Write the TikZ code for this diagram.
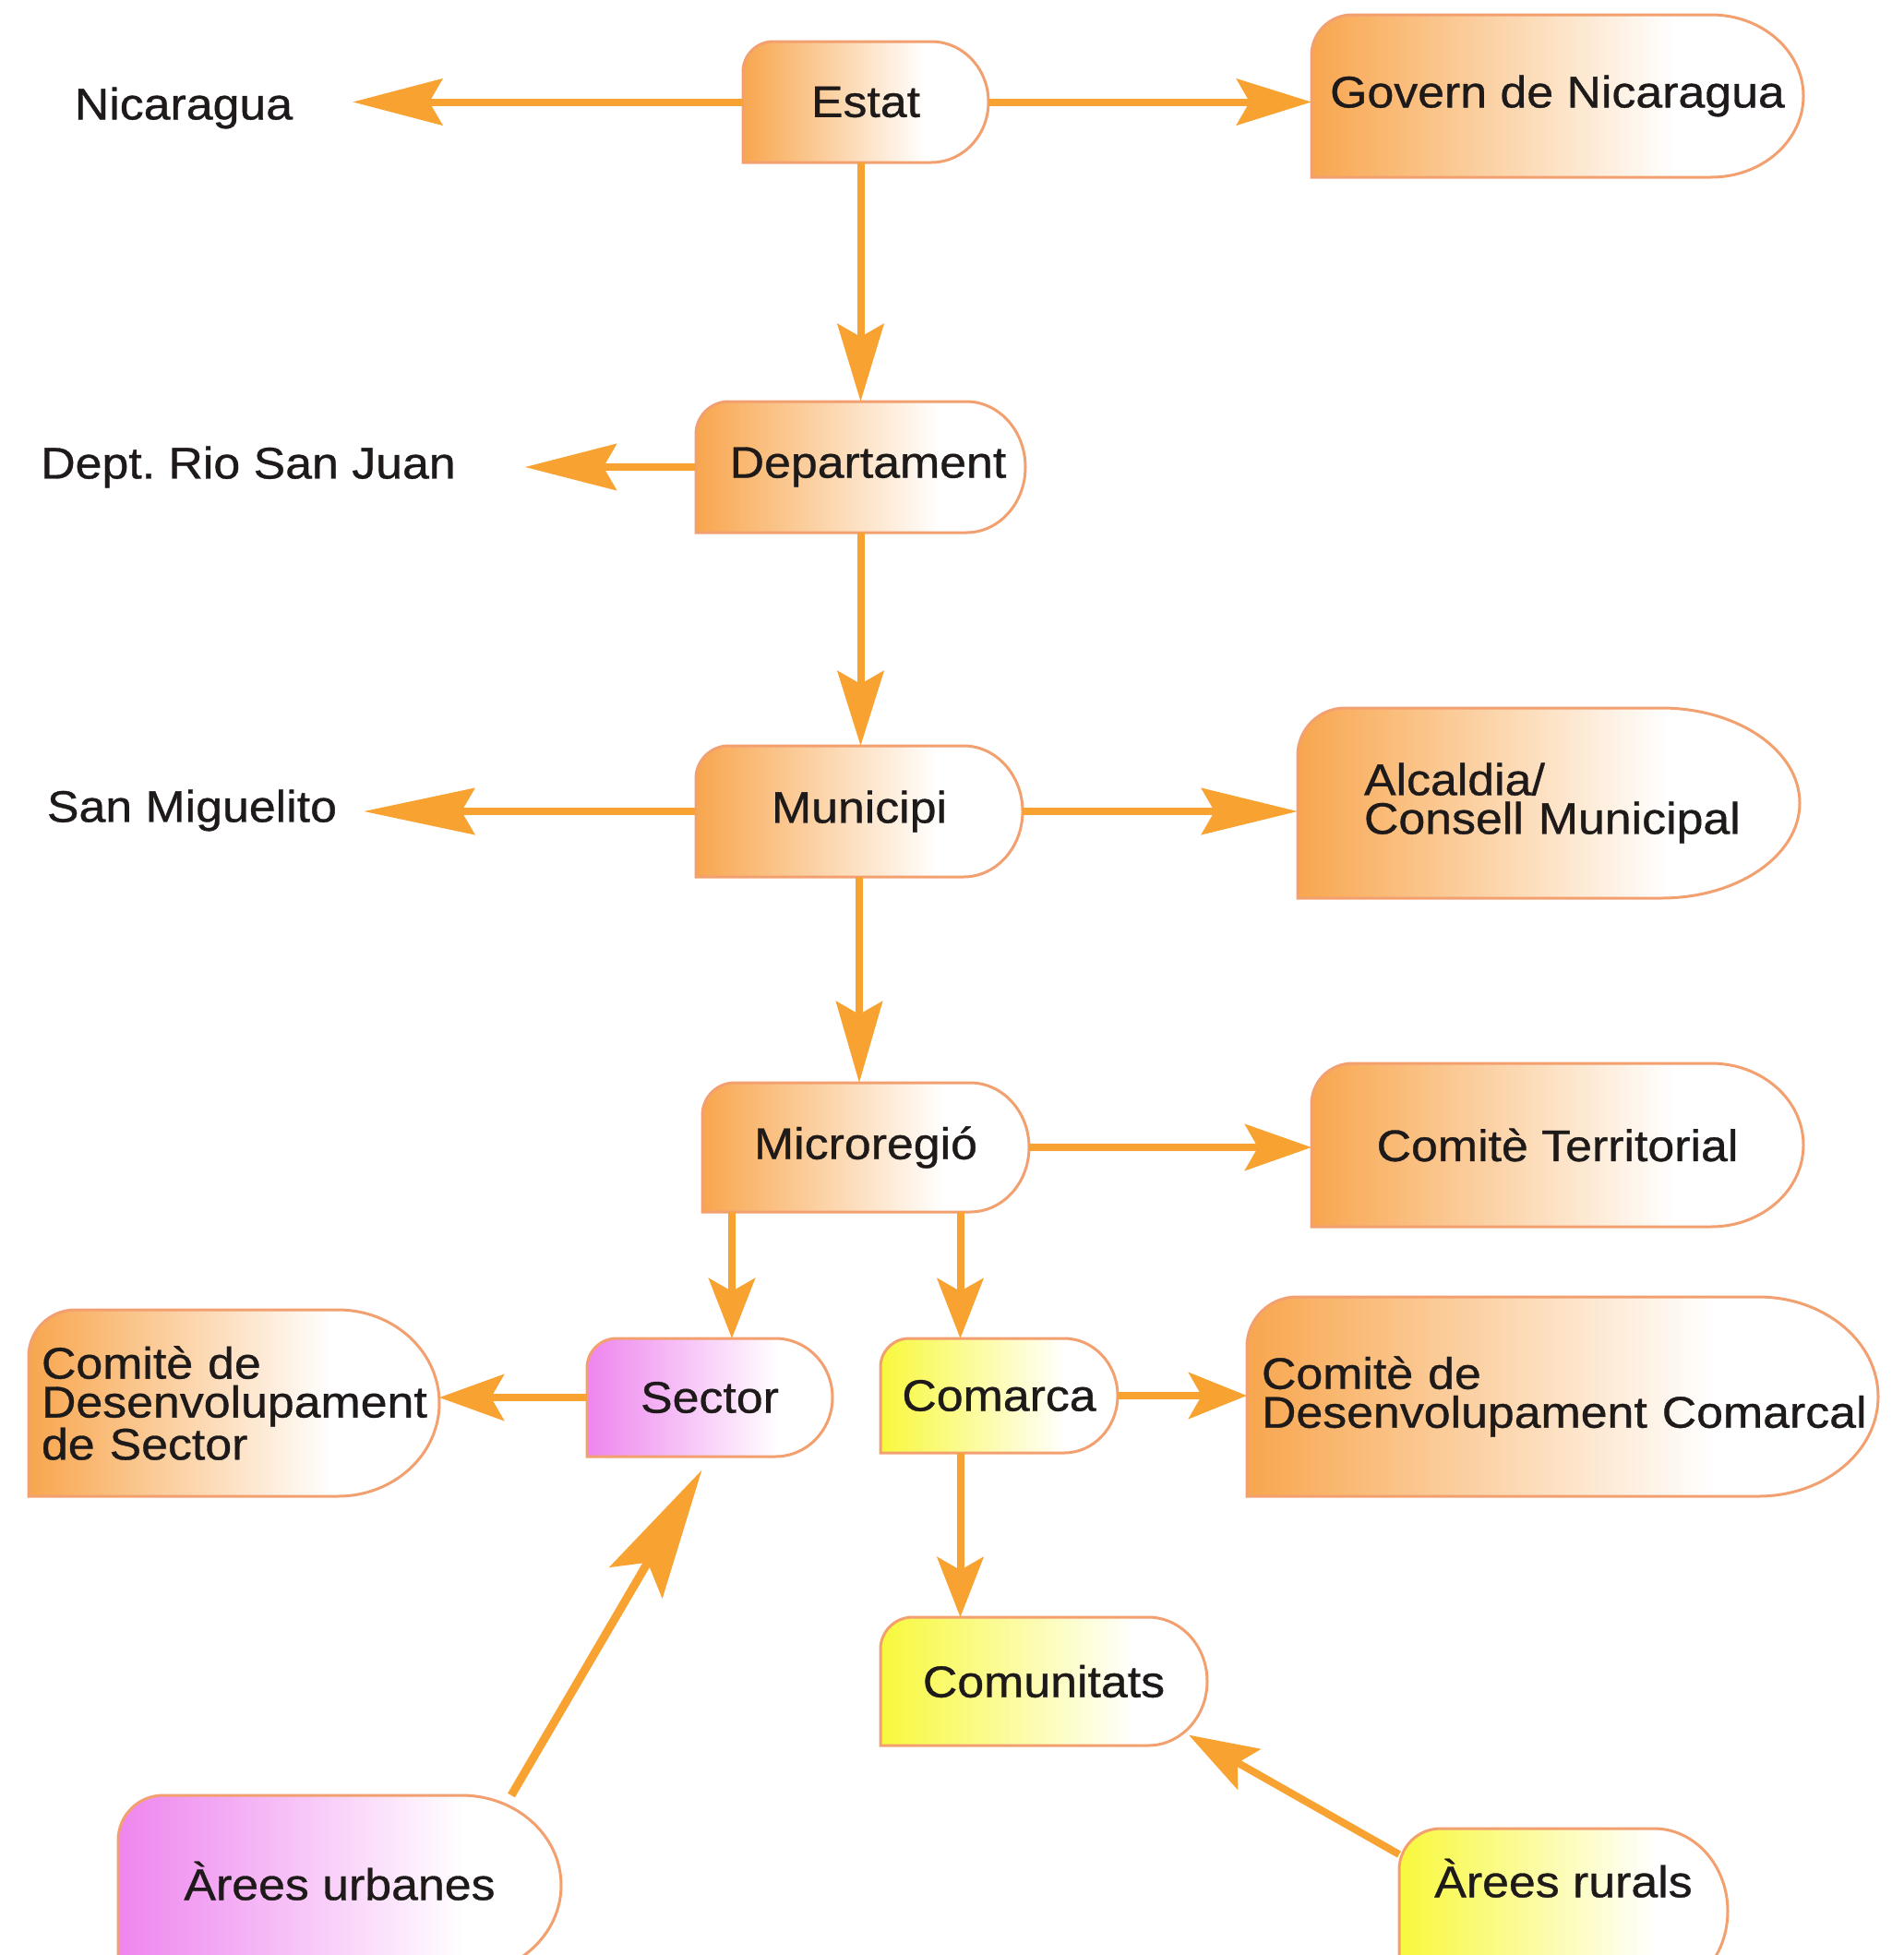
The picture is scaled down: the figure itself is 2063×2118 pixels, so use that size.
\documentclass[tikz,border=0pt]{standalone}
\usepackage{fontspec}
\setmainfont{Liberation Sans}[FakeStretch=1.08, FakeBold=0.7]
\usetikzlibrary{arrows.meta}
\definecolor{orC}{HTML}{F8A64E}
\definecolor{pkC}{HTML}{EE85EE}
\definecolor{ylC}{HTML}{F8F83C}
\definecolor{arrC}{HTML}{F8A232}
\definecolor{bordC}{HTML}{F2A070}
\definecolor{txtC}{HTML}{1E1A1A}
\pgfdeclarehorizontalshading{orsh}{100bp}{color(0bp)=(orC); color(25bp)=(orC); color(62bp)=(white); color(100bp)=(white)}
\pgfdeclarehorizontalshading{pksh}{100bp}{color(0bp)=(pkC); color(25bp)=(pkC); color(64bp)=(white); color(100bp)=(white)}
\pgfdeclarehorizontalshading{ylsh}{100bp}{color(0bp)=(ylC); color(25bp)=(ylC); color(64bp)=(white); color(100bp)=(white)}
\newcommand\bigf{\fontsize{48pt}{42pt}\selectfont\hyphenpenalty=10000 }
\tikzset{
  boxline/.style={draw=bordC, line width=3pt},
  txt/.style={inner sep=0pt, outer sep=0pt, font=\bigf, text=txtC, rectangle, align=center},
  arr/.style={draw=arrC, line width=8pt, -{Stealth[length=#1, width=50pt, inset=14pt]}},
  arr/.default=80pt,
}
% #1 name, #2 left, #3 top, #4 right, #5 bottom, #6 shading, #7 right radius, #8 node options, #9 text
\newcommand\bxn[9]{%
  \path[boxline, shading=#6] (#2,-#5) -- (#2,{-#3-(#5-#3)/4})
     arc[start angle=180, end angle=90, radius={(#5-#3)/4}]
     -- ({#4-#7},-#3)
     arc[start angle=90, end angle=-90, x radius=#7, y radius={(#5-#3)/2}]
     -- cycle;
  \node[txt, minimum width={(#4-#2)*1pt}, minimum height={(#5-#3)*1pt}, #8] (#1)
     at ({(#2+#4)/2},{-(#3+#5)/2}) {#9};
}
\begin{document}
\begin{tikzpicture}[x=1pt,y=1pt]
\useasboundingbox (0,0) rectangle (2063,-2118);
\clip (0,0) rectangle (2063,-2118);

% boxes
\bxn{estat}{805}{45}{1071}{176}{orsh}{62}{}{Estat}
\bxn{govern}{1421}{16}{1954}{192}{orsh}{100}{}{Govern de Nicaragua}
\bxn{depart}{754}{435}{1111}{577}{orsh}{64}{}{\hspace*{16pt}Departament}
\bxn{munic}{754}{808}{1108}{950}{orsh}{64}{}{Municipi}
\bxn{alcal}{1406}{767}{1950}{973}{orsh}{150}{align=left, text width=400pt}{\mbox{Alcaldia/}\\\mbox{Consell Municipal}}
\bxn{micro}{761}{1173}{1115}{1313}{orsh}{64}{}{Microregió}
\bxn{comter}{1421}{1152}{1954}{1329}{orsh}{100}{}{Comitè Territorial}
\bxn{sector}{636}{1450}{902}{1578}{pksh}{62}{}{Sector}
\bxn{cds}{31}{1419}{476}{1621}{orsh}{110}{align=left, text width=417pt}{\mbox{Comitè de}\\\mbox{Desenvolupament}\\\mbox{de Sector}}
\bxn{comarca}{954}{1450}{1211}{1574}{ylsh}{58}{}{Comarca}
\bxn{cdc}{1351}{1405}{2035}{1621}{orsh}{130}{align=left, text width=652pt}{\mbox{Comitè de}\\\mbox{Desenvolupament Comarcal}}
\bxn{comun}{954}{1752}{1308}{1891}{ylsh}{64}{}{Comunitats}
\bxn{urban}{128}{1945}{608}{2140}{pksh}{108}{}{\raisebox{10pt}{Àrees urbanes}}
\bxn{rural}{1516}{1981}{1872}{2160}{ylsh}{80}{}{\raisebox{72pt}{Àrees rurals}}

% plain labels
\node[txt] (nic) at (199,-117) {Nicaragua};
\node[txt] (rio) at (269,-506) {Dept.\ Rio San Juan};
\node[txt] (sanm) at (208,-878) {San Miguelito};

% connectors
\draw[arr=97pt, shorten >=65pt] (estat.west) -- (estat.west -| nic.east);
\draw[arr=81pt] (estat.east) -- (estat.east -| govern.west);
\draw[arr=84pt] (depart.north |- estat.south) -- (depart.north);
\draw[arr=99pt, shorten >=75pt] (depart.west) -- (depart.west -| rio.east);
\draw[arr=81pt] (depart.south) -- (depart.south |- munic.north);
\draw[arr=120pt, shorten >=29pt] (munic.west) -- (munic.west -| sanm.east);
\draw[arr=104pt] (munic.east) -- (munic.east -| alcal.west);
\draw[arr=88pt] (munic.south) -- (munic.south |- micro.north);
\draw[arr=72pt] (micro.east) -- (micro.east -| comter.west);
\draw[arr=65pt] ([xshift=24pt]sector.north |- micro.south) -- ([xshift=24pt]sector.north);
\draw[arr=65pt] ([xshift=-42pt]comarca.north |- micro.south) -- ([xshift=-42pt]comarca.north);
\draw[arr=70pt] (sector.west) -- (sector.west -| cds.east);
\draw[arr=63pt] (comarca.east) -- (comarca.east -| cdc.west);
\draw[arr=65pt] ([xshift=-42pt]comarca.south) -- ([xshift=-42pt]comarca.south |- comun.north);
\draw[draw=arrC, line width=9pt, -{Stealth[length=141pt, width=66pt, inset=25pt]}, shorten >=17pt]
  ([xshift=-54pt]urban.north east) -- (sector.south);
\draw[arr=75pt, shorten >=-23pt] ([yshift=-28pt]rural.north west) -- (comun.south east);
\end{tikzpicture}
\end{document}
